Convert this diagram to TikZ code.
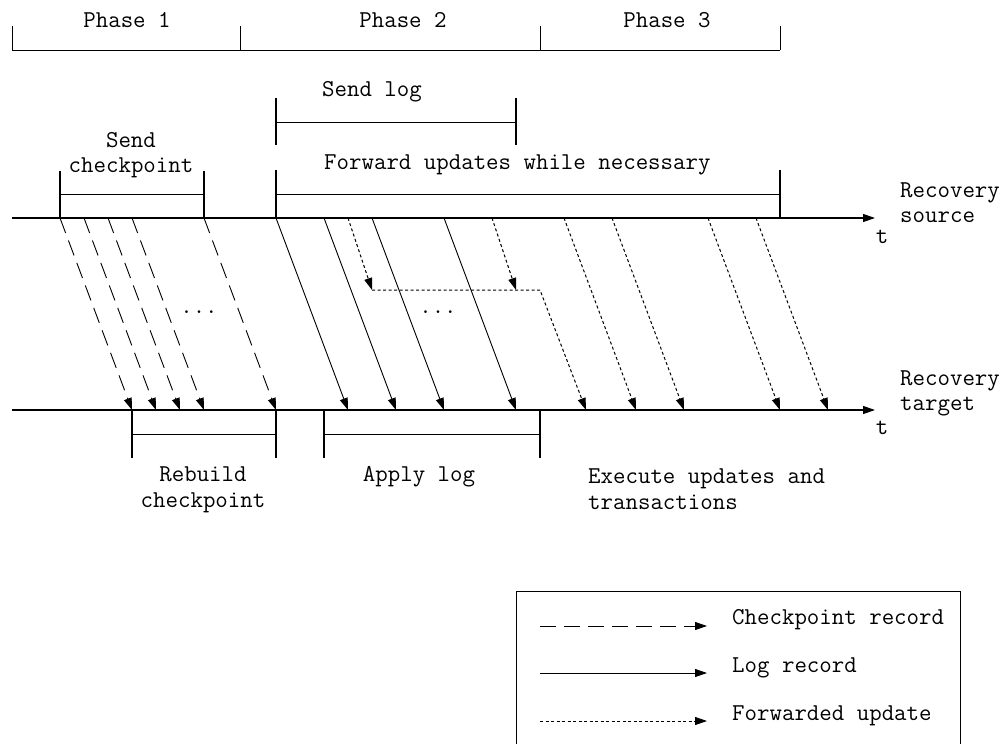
\documentclass[tikz,border=0pt]{standalone}
\usetikzlibrary{arrows.meta}

\begin{document}
\begin{tikzpicture}[x=1pt,y=-1pt,
	every node/.style={font=\ttfamily\fontsize{24.2}{25.5}\selectfont,inner sep=0pt},
	timeline/.style={line width=1.2pt,-{Triangle[length=12pt,width=8pt]}},
	ckpt/.style={line width=0.9pt,dash pattern=on 16pt off 8pt,-{Triangle[length=12pt,width=8pt]}},
	logrec/.style={line width=0.9pt,-{Triangle[length=12pt,width=8pt]}},
	fwd/.style={line width=1pt,dash pattern=on 3pt off 2.5pt,-{Triangle[length=12pt,width=8pt]}},
	bar/.style={line width=1pt},
	tick/.style={line width=1.5pt}]
	\useasboundingbox (0,0) rectangle (1002,744);
	
	% phases
	\draw[bar] (12,50) -- (780,50);
	\foreach \x in {12,240,540,780} \draw[bar] (\x,26) -- (\x,50);
	\node (ph1) at (127,20) {Phase 1};
	\node (ph2) at (403,20) {Phase 2};
	\node (ph3) at (667,20) {Phase 3};
	
	% brackets above the source
	\node (sendlog) at (372,92) {Send log};
	\draw[tick] (276,98) -- (276,145) (516,98) -- (516,145);
	\draw[bar] (276,122) -- (516,122);
	\node (sendckpt) [align=center] at (131,155) {Send\\checkpoint};
	\draw[tick] (60,171) -- (60,218) (204,171) -- (204,218);
	\draw[bar] (60,194) -- (204,194);
	\node (fwdupd) [anchor=west] at (324,165) {Forward updates while necessary};
	\draw[tick] (276,170) -- (276,218) (780,170) -- (780,218);
	\draw[bar] (276,194) -- (780,194);
	
	% time lines
	\coordinate (src0) at (12,218);
	\coordinate (src1) at (875,218);
	\coordinate (tgt0) at (12,410);
	\coordinate (tgt1) at (875,410);
	\draw[timeline] (src0) -- (src1);
	\draw[timeline] (tgt0) -- (tgt1);
	\node (srclbl) [anchor=west,align=left] at (900,202.5) {Recovery\\source};
	\node (tgtlbl) [anchor=west,align=left] at (900,393.5) {Recovery\\target};
	\node (tsrc) at (882,237) {t};
	\node (ttgt) at (882,428) {t};
	
	% checkpoint records
	\foreach \x in {60,84,108,132,204} \draw[ckpt] (\x,218) -- (\x+72,410);
	\node (dots1) at (199,312) {...};
	
	% log records
	\foreach \x in {276,324,372,444} \draw[logrec] (\x,218) -- (\x+72,410);
	\node (dots2) at (438,312) {...};
	
	% forwarded updates
	\draw[fwd] (348,218) -- (372,290);
	\draw[fwd] (492,218) -- (516,290);
	\draw[fwd] (372,290) -- (540,290) -- (586,410);
	\foreach \x in {564,612,708,756} \draw[fwd] (\x,218) -- (\x+72,410);
	
	% brackets below the target
	\draw[tick] (132,410) -- (132,458) (276,410) -- (276,458);
	\draw[bar] (132,434) -- (276,434);
	\node (rebuild) [align=center] at (203,490) {Rebuild\\checkpoint};
	\draw[tick] (324,410) -- (324,458) (540,410) -- (540,458);
	\draw[bar] (324,434) -- (540,434);
	\node (applylog) at (419,477) {Apply log};
	\node (execute) [anchor=west,align=left] at (588,489) {Execute updates and\\transactions};
	
	% legend
	\draw[line width=1pt] (516,760) -- (516,591) -- (960,591) -- (960,760);
	\coordinate (lg1) at (540,626);
	\coordinate (lg2) at (540,673);
	\coordinate (lg3) at (540,721);
	\node (ckptlbl) [anchor=west] at (732,620) {Checkpoint record};
	\node (loglbl) [anchor=west] at (732,668) {Log record};
	\node (fwdlbl) [anchor=west] at (732,716) {Forwarded update};
	\draw[ckpt] (lg1) -- (lg1 -| 707,0);
	\draw[logrec] (lg2) -- (lg2 -| 707,0);
	\draw[fwd] (lg3) -- (lg3 -| 707,0);
\end{tikzpicture}
\end{document}
